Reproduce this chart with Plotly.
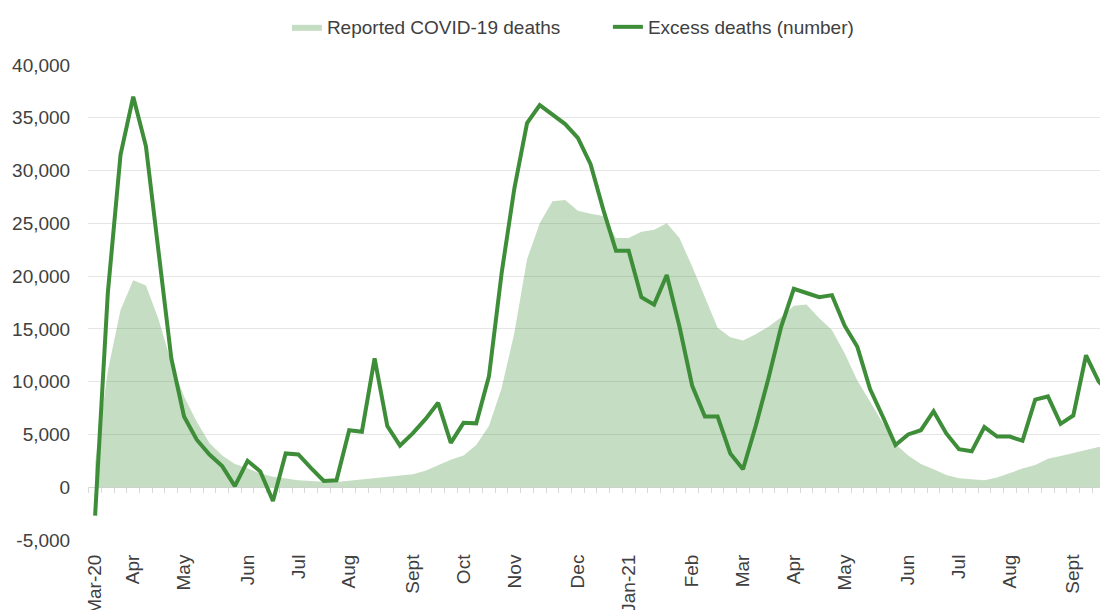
import plotly.graph_objects as go

# Weekly series (week index 0 = week of Mar-20)
excess = [-2700, 18400, 31500, 37000, 32300, 22500, 12200, 6700, 4500, 3100,
          2000, 100, 2500, 1500, -1300, 3200, 3100, 1800, 600, 650,
          5400, 5250, 12200, 5800, 3950, 5100, 6450, 8000, 4200, 6100,
          6050, 10500, 20300, 28300, 34500, 36200, 35300, 34400, 33100, 30600,
          26300, 22400, 22400, 18000, 17300, 20100, 15200, 9600, 6700, 6700,
          3200, 1700, 5800, 10300, 15200, 18800, 18400, 18000, 18200, 15300,
          13300, 9300, 6700, 4000, 5000, 5400, 7200, 5100, 3600, 3400,
          5700, 4800, 4800, 4400, 8300, 8600, 6000, 6800, 12500, 10000, 8800]

reported = [2300, 11000, 16800, 19600, 19100, 15900, 11800, 8600, 6200, 4200,
            3000, 2200, 1800, 1300, 1000, 820, 660, 600, 510, 500,
            630, 760, 890, 1010, 1080, 1230, 1550, 2100, 2600, 3000,
            4000, 5800, 9400, 14600, 21600, 25000, 27100, 27200, 26200, 25900,
            25700, 23600, 23600, 24200, 24400, 25000, 23600, 20900, 18000, 15100,
            14200, 13900, 14500, 15200, 16100, 17200, 17300, 16000, 14900, 12700,
            10100, 8100, 6000, 4100, 3000, 2200, 1700, 1150, 850, 730,
            660, 920, 1350, 1770, 2100, 2700, 2950, 3250, 3500, 3800, 3900]

weeks = list(range(len(excess)))

tick_labels = ["Mar-20", "Apr", "May", "Jun", "Jul", "Aug", "Sept", "Oct", "Nov",
               "Dec", "Jan-21", "Feb", "Mar", "Apr", "May", "Jun", "Jul", "Aug", "Sept"]
tick_weeks = [0, 3, 7, 12, 16, 20, 25, 29, 33, 38, 42, 47, 51, 55, 59, 64, 68, 72, 77]

y_ticks = list(range(-5000, 40001, 5000))
y_tick_labels = [f"{v:,}" for v in y_ticks]

GREEN = "#3e8e39"
TEXT = "#404040"
GRID = "#e6e6e6"
FONT = "Liberation Sans, Arial, sans-serif"

x_range = [-0.56, 79.73]
y_range = [-5000, 40000]

fig = go.Figure()
fig.add_trace(go.Scatter(
    x=weeks, y=reported, name="Reported COVID-19 deaths",
    mode="lines", line=dict(width=0, color="rgba(62,142,57,0.3)"),
    fill="tozeroy", fillcolor="rgba(62,142,57,0.3)",
    xaxis="x", yaxis="y"))
fig.add_trace(go.Scatter(
    x=weeks, y=excess, name="Excess deaths (number)",
    mode="lines", line=dict(width=4, color=GREEN),
    xaxis="x2", yaxis="y"))

zero_pos = (0 - y_range[0]) / (y_range[1] - y_range[0])

fig.update_layout(
    width=1100, height=602,
    margin=dict(l=80, r=0, t=57, b=70, autoexpand=False),
    paper_bgcolor="white", plot_bgcolor="white",
    font=dict(family=FONT, size=19, color=TEXT),
    showlegend=True,
    legend=dict(orientation="h", x=0.195, xanchor="left", y=1.08, yanchor="middle",
                font=dict(size=19, color=TEXT), bgcolor="rgba(0,0,0,0)",
                entrywidth=276, entrywidthmode="pixels", traceorder="normal"),
    xaxis=dict(range=x_range, tickmode="array", tickvals=tick_weeks, ticktext=tick_labels,
               tickangle=-90, showgrid=False, zeroline=False, showline=False,
               ticks="outside", ticklen=6, tickcolor="rgba(0,0,0,0)",
               tickfont=dict(size=19, color=TEXT), automargin=False),
    xaxis2=dict(range=x_range, overlaying="x", anchor="free", position=zero_pos,
                side="bottom", tickmode="array",
                tickvals=[w - 0.5 for w in weeks] + [weeks[-1] + 0.5],
                showticklabels=False, ticks="outside", ticklen=5, tickcolor="#d9d9d9",
                showline=True, linecolor="#d9d9d9", linewidth=1,
                showgrid=False, zeroline=False, layer="below traces", automargin=False),
    yaxis=dict(range=y_range, tickmode="array", tickvals=y_ticks, ticktext=y_tick_labels,
               showgrid=True, gridcolor=GRID, gridwidth=1,
               zeroline=False, showline=False,
               ticks="outside", ticklen=13, tickcolor="rgba(0,0,0,0)",
               tickfont=dict(size=19, color=TEXT), automargin=False),
)

fig.write_html("out.html")
